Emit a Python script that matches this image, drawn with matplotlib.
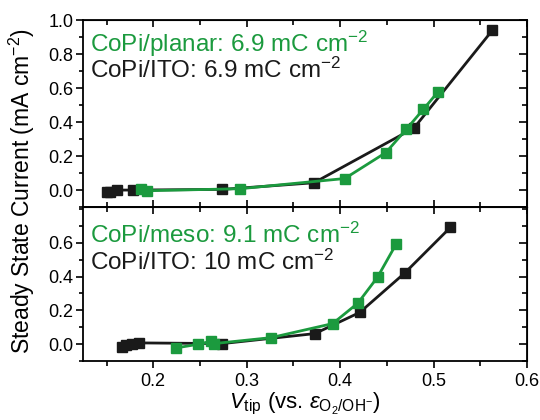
import numpy as np
import matplotlib
matplotlib.use("Agg")
import matplotlib.pyplot as plt
from matplotlib.ticker import MultipleLocator, FixedLocator

plt.rcParams['font.family'] = ['Liberation Sans', 'DejaVu Sans']
plt.rcParams['mathtext.fontset'] = 'custom'
plt.rcParams['mathtext.rm'] = 'Liberation Sans'
plt.rcParams['mathtext.it'] = 'Liberation Sans:italic'

green = "#1b9a3e"

# top panel: CoPi/ITO 6.9 vs CoPi/planar 6.9
ito_top_v = [0.150, 0.154, 0.161, 0.178, 0.274, 0.372, 0.479, 0.563]
ito_top_i = [-0.014, -0.010, 0.000, 0.000, 0.004, 0.043, 0.365, 0.941]
planar_v = [0.187, 0.193, 0.293, 0.405, 0.449, 0.471, 0.489, 0.505]
planar_i = [0.004, -0.004, 0.008, 0.068, 0.221, 0.359, 0.475, 0.580]

# bottom panel: CoPi/ITO 10 vs CoPi/meso 9.1
ito_bot_v = [0.167, 0.171, 0.177, 0.185, 0.274, 0.373, 0.421, 0.469, 0.518]
ito_bot_i = [-0.016, -0.006, 0.004, 0.008, 0.004, 0.063, 0.188, 0.420, 0.690]
meso_v = [0.224, 0.248, 0.262, 0.265, 0.326, 0.392, 0.419, 0.440, 0.460]
meso_i = [-0.022, 0.000, 0.018, 0.004, 0.039, 0.122, 0.243, 0.396, 0.592]

fig = plt.figure(figsize=(5.4, 4.2), dpi=100)
ax1 = fig.add_axes([0.154, 0.507, 0.822, 0.445])
ax2 = fig.add_axes([0.154, 0.140, 0.822, 0.367])

def style(ax, bottom_out, yticks):
    ax.set_xlim(0.125, 0.6)
    ax.xaxis.set_major_locator(MultipleLocator(0.1))
    ax.xaxis.set_minor_locator(MultipleLocator(0.05))
    ax.yaxis.set_major_locator(FixedLocator(yticks))
    ax.yaxis.set_minor_locator(MultipleLocator(0.1))
    ax.tick_params(axis='y', which='major', direction='out', length=5, width=1.2, labelsize=13, pad=2)
    ax.tick_params(axis='y', which='minor', direction='out', length=3, width=1.2)
    d = 'out' if bottom_out else 'in'
    ax.tick_params(axis='x', which='major', direction=d, length=5, width=1.2, labelsize=13)
    ax.tick_params(axis='x', which='minor', direction=d, length=3.5, width=1.2)
    for s in ax.spines.values():
        s.set_linewidth(1.3)
    sx = ax.secondary_xaxis('top')
    sx.xaxis.set_major_locator(MultipleLocator(0.1))
    sx.xaxis.set_minor_locator(MultipleLocator(0.05))
    sx.tick_params(which='major', direction='in', length=5, width=1.2, labeltop=False)
    sx.tick_params(which='minor', direction='in', length=3.5, width=1.2)
    sy = ax.secondary_yaxis('right')
    sy.yaxis.set_major_locator(FixedLocator(yticks))
    sy.yaxis.set_minor_locator(MultipleLocator(0.1))
    sy.tick_params(which='major', direction='in', length=6, width=1.2, labelright=False)
    sy.tick_params(which='minor', direction='in', length=3.5, width=1.2)

style(ax1, False, [0.0, 0.2, 0.4, 0.6, 0.8, 1.0])
style(ax2, True, [0.0, 0.2, 0.4, 0.6])

ax1.plot(ito_top_v, ito_top_i, color='#1a1a1a', marker='s', ms=7, lw=2)
ax1.plot(planar_v, planar_i, color=green, marker='s', ms=7, lw=2)
ax1.set_ylim(-0.1, 1.0)
ax1.tick_params(axis='x', labelbottom=False)
ax1.text(0.016, 0.829, "CoPi/planar: 6.9 mC cm$^{-2}$", color=green, fontsize=17.5, transform=ax1.transAxes)
ax1.text(0.016, 0.69, "CoPi/ITO: 6.9 mC cm$^{-2}$", color='#1a1a1a', fontsize=17.5, transform=ax1.transAxes)

ax2.plot(ito_bot_v, ito_bot_i, color='#1a1a1a', marker='s', ms=7, lw=2)
ax2.plot(meso_v, meso_i, color=green, marker='s', ms=7, lw=2)
ax2.set_ylim(-0.1, 0.81)
ax2.text(0.016, 0.766, "CoPi/meso: 9.1 mC cm$^{-2}$", color=green, fontsize=17.5, transform=ax2.transAxes)
ax2.text(0.016, 0.59, "CoPi/ITO: 10 mC cm$^{-2}$", color='#1a1a1a', fontsize=17.5, transform=ax2.transAxes)
ax2.set_xlabel(r"$V_{\mathrm{tip}}$ (vs. $\varepsilon_{\mathrm{O_2/OH^{-}}}$)", fontsize=16, labelpad=1)

fig.text(0.040, 0.545, "Steady State Current (mA cm$^{-2}$)", rotation=90, fontsize=16.5, ha='center', va='center')

plt.savefig("out.png", dpi=100)
plt.close()
